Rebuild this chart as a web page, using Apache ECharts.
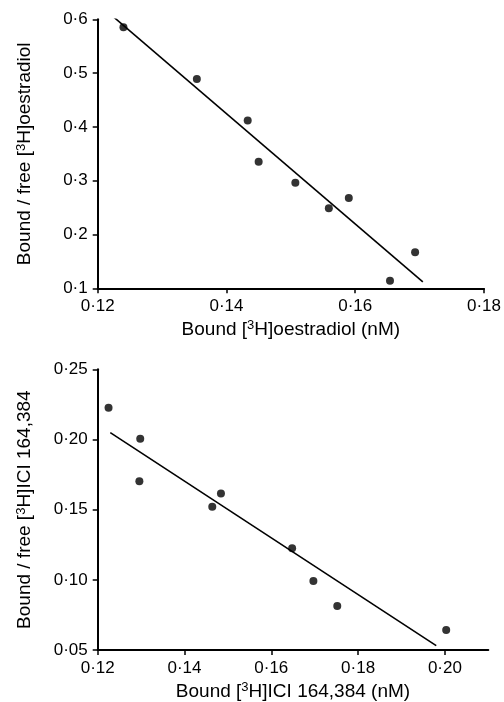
<!DOCTYPE html>
<html>
<head>
<meta charset="utf-8">
<script src="https://cdn.jsdelivr.net/npm/echarts@6/dist/echarts.min.js"></script>
<style>
html,body{margin:0;padding:0;background:#fff;}
#chart{width:504px;height:702px;}
</style>
</head>
<body>
<div id="chart"></div>
<script>
// ---- Top panel: [3H]oestradiol ----
const topBound = [0.1240, 0.1354, 0.1433, 0.1450, 0.1507, 0.1559, 0.1590, 0.1654, 0.1693];
const topRatio = [0.585, 0.489, 0.412, 0.335, 0.296, 0.249, 0.268, 0.114, 0.167];
const topFitX = [0.1225, 0.1705];
const topFitY = [0.604, 0.112];
const topXTicks = [0.12, 0.14, 0.16, 0.18];
const topYTicks = [0.1, 0.2, 0.3, 0.4, 0.5, 0.6];

// ---- Bottom panel: [3H]ICI 164,384 ----
const botBound = [0.1225, 0.1298, 0.1296, 0.1464, 0.1484, 0.1648, 0.1697, 0.1752, 0.2003];
const botRatio = [0.2226, 0.2006, 0.1702, 0.1520, 0.1615, 0.1225, 0.0991, 0.0814, 0.0642];
const botFitX = [0.1229, 0.1980];
const botFitY = [0.2049, 0.0531];
const botXTicks = [0.12, 0.14, 0.16, 0.18, 0.20];
const botYTicks = [0.05, 0.10, 0.15, 0.20, 0.25];

const FONT = 'Liberation Sans';
const fmt = d => v => v.toFixed(d).replace('.', '\u00B7');
const rich = {
  n: {fontFamily: FONT, fontSize: 19, color: '#000'},
  s: {fontFamily: FONT, fontSize: 13, color: '#000', verticalAlign: 'top', padding: [0, 0, 8, 0]}
};

function axis(min, max, interval, ticks, digits, name, gap) {
  return {
    type: 'value', min: min, max: max, interval: interval,
    name: name, nameLocation: 'middle', nameGap: gap,
    nameTextStyle: {fontFamily: FONT, fontSize: 19, color: '#000', rich: rich},
    axisLine: {show: true, onZero: false, lineStyle: {color: '#000', width: 2}},
    axisTick: {show: true, inside: false, length: 5, lineStyle: {color: '#000', width: 1.5}, customValues: ticks},
    axisLabel: {color: '#000', fontFamily: FONT, fontSize: 17, margin: 10, formatter: fmt(digits), customValues: ticks},
    splitLine: {show: false}
  };
}

const zip = (a, b) => a.map((v, i) => [v, b[i]]);

const option = {
  backgroundColor: '#fff',
  animation: false,
  grid: [
    {left: 97.7, top: 19.3, width: 389.6, height: 269},
    {left: 97.7, top: 369.3, width: 390.6, height: 282.4}
  ],
  xAxis: [
    Object.assign(axis(0.12, 0.18, 0.02, topXTicks, 2, '{n|Bound [}{s|3}{n|H]oestradiol (nM)}', 31), {gridIndex: 0}),
    Object.assign(axis(0.12, 0.21, 0.02, botXTicks, 2, '{n|Bound [}{s|3}{n|H]ICI 164,384 (nM)}', 31), {gridIndex: 1})
  ],
  yAxis: [
    Object.assign(axis(0.1, 0.6, 0.1, topYTicks, 1, '{n|Bound / free [}{s|3}{n|H]oestradiol}', 62), {gridIndex: 0}),
    Object.assign(axis(0.05, 0.25, 0.05, botYTicks, 2, '{n|Bound / free [}{s|3}{n|H]ICI 164,384}', 62), {gridIndex: 1})
  ],
  series: [
    {type: 'line', xAxisIndex: 0, yAxisIndex: 0, data: zip(topFitX, topFitY), showSymbol: false,
     lineStyle: {color: '#000', width: 1.6}, silent: true},
    {type: 'scatter', xAxisIndex: 0, yAxisIndex: 0, data: zip(topBound, topRatio), symbolSize: 8,
     itemStyle: {color: '#000'}},
    {type: 'line', xAxisIndex: 1, yAxisIndex: 1, data: zip(botFitX, botFitY), showSymbol: false,
     lineStyle: {color: '#000', width: 1.6}, silent: true},
    {type: 'scatter', xAxisIndex: 1, yAxisIndex: 1, data: zip(botBound, botRatio), symbolSize: 8,
     itemStyle: {color: '#000'}}
  ]
};

echarts.init(document.getElementById('chart'), null, {renderer: 'canvas'}).setOption(option);
</script>
</body>
</html>
